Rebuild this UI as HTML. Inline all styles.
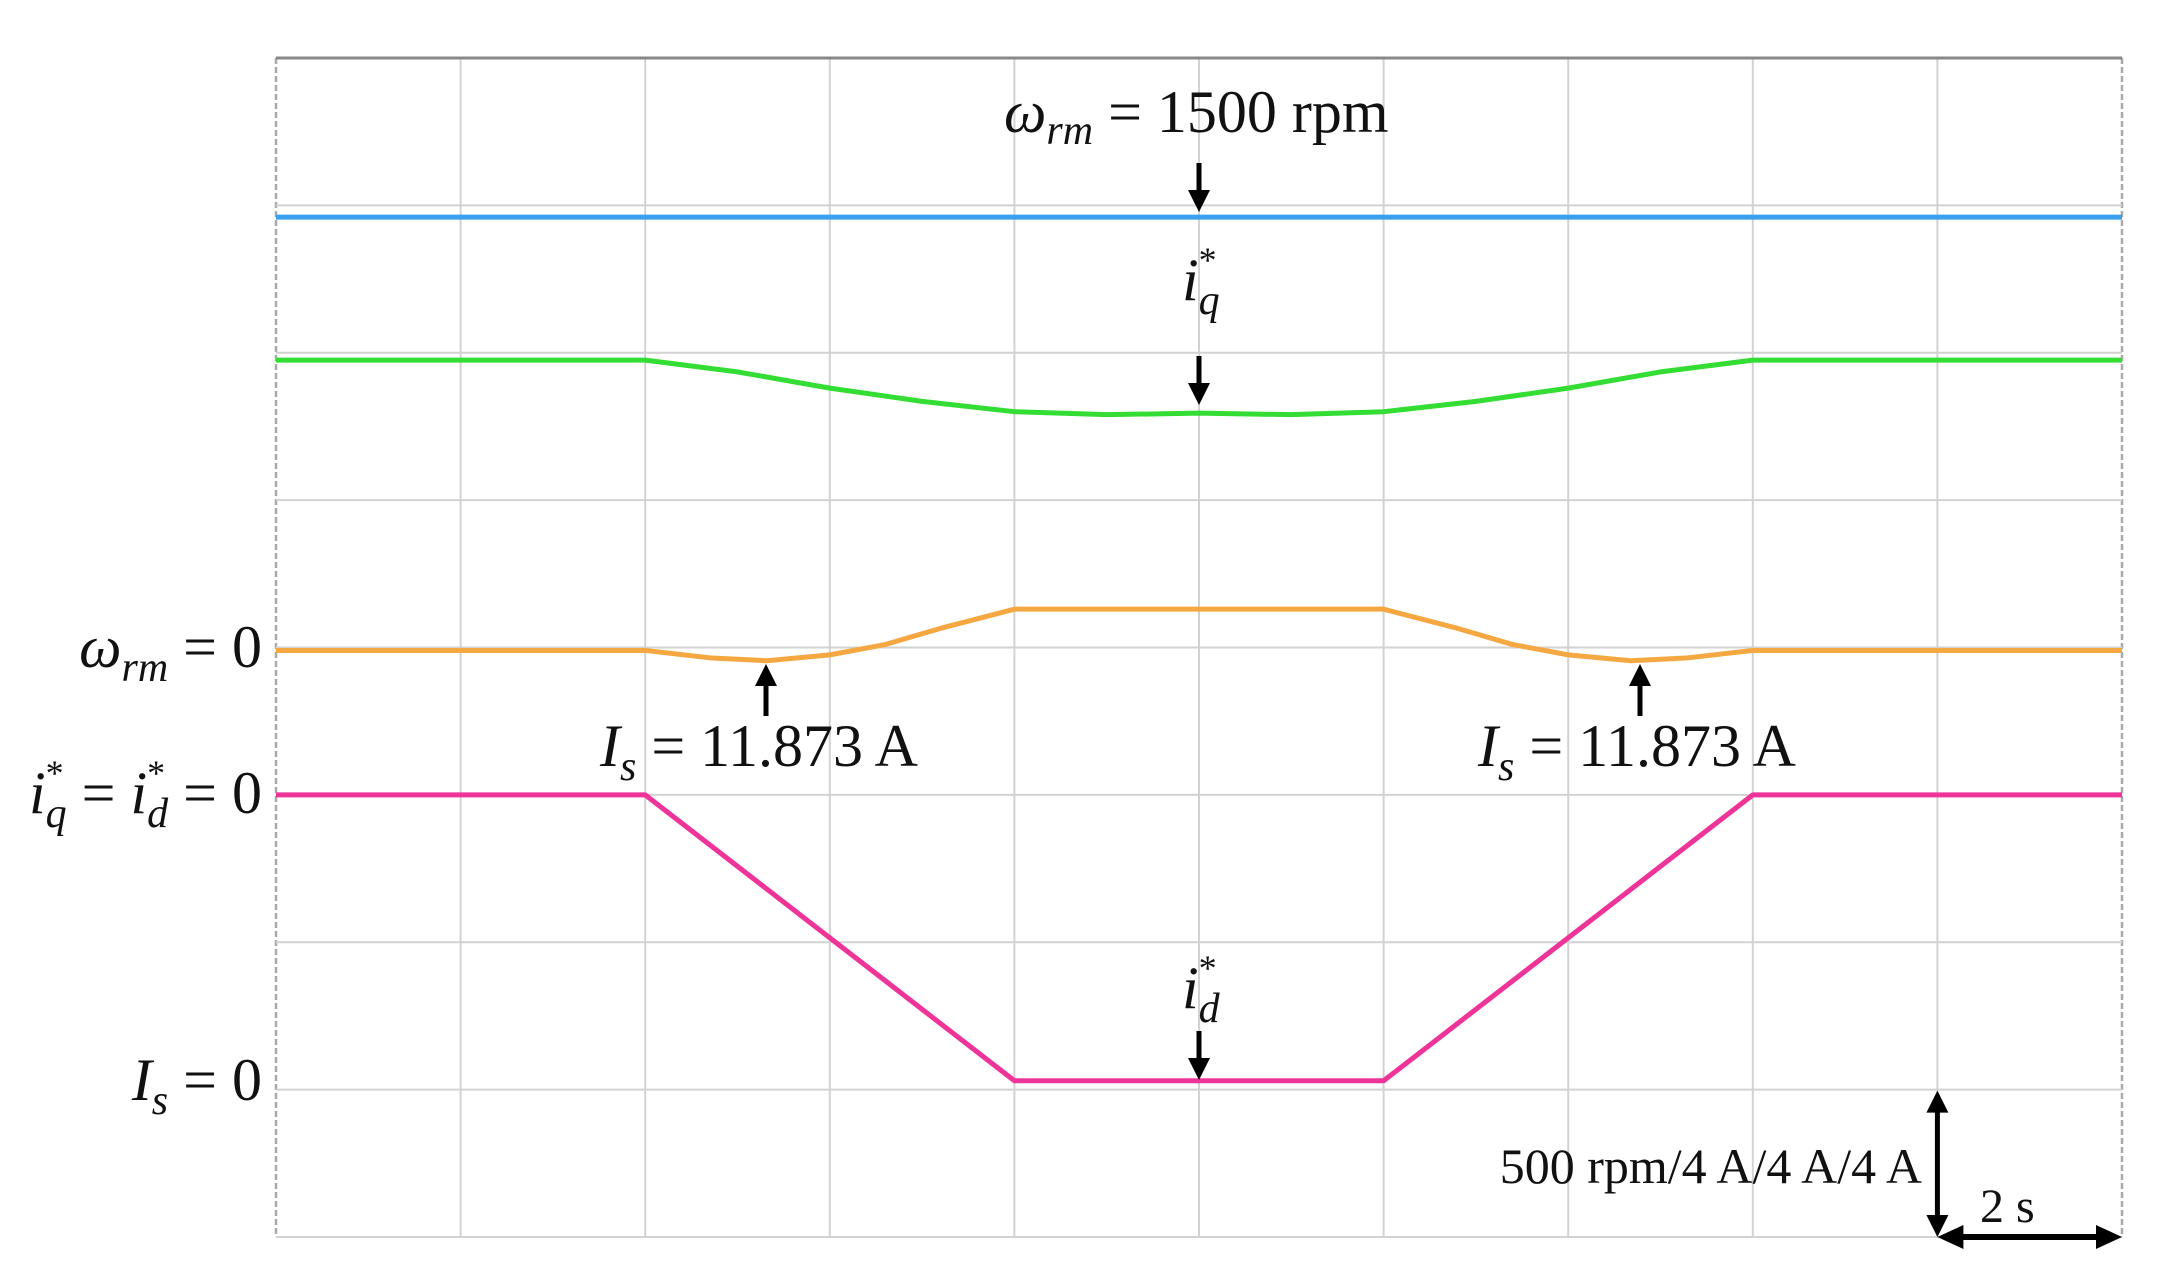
<!DOCTYPE html>
<html><head><meta charset="utf-8"><style>
html,body{margin:0;padding:0;background:#fff}
svg{display:block}
text{font-family:"Liberation Serif",serif;fill:#111}
</style></head><body>
<svg id="chart" width="2162" height="1277" viewBox="0 0 2162 1277" xmlns="http://www.w3.org/2000/svg">
<g id="grid"></g>
<g id="traces"></g>
<g id="annot" font-size="60">
  <text x="1004" y="132"><tspan font-style="italic">ω</tspan><tspan font-style="italic" font-size="42" dy="12">rm</tspan><tspan dy="-12"> = 1500 rpm</tspan></text>
  <text x="1182" y="300" font-style="italic">i<tspan font-size="36" dy="-28" font-style="normal">*</tspan><tspan font-size="42" dx="-18" dy="42">q</tspan></text>
  <text x="1182" y="1008" font-style="italic">i<tspan font-size="36" dy="-28" font-style="normal">*</tspan><tspan font-size="42" dx="-18" dy="42">d</tspan></text>
  <text x="262" y="667" text-anchor="end"><tspan font-style="italic">ω</tspan><tspan font-style="italic" font-size="42" dy="14">rm</tspan><tspan dy="-14"> = 0</tspan></text>
  <text x="262" y="813" text-anchor="end"><tspan font-style="italic">i</tspan><tspan font-size="36" dy="-28">*</tspan><tspan font-style="italic" font-size="42" dx="-18" dy="42">q</tspan><tspan dy="-14"> = </tspan><tspan font-style="italic">i</tspan><tspan font-size="36" dy="-28">*</tspan><tspan font-style="italic" font-size="42" dx="-18" dy="42">d</tspan><tspan dy="-14"> = 0</tspan></text>
  <text x="262" y="1100" text-anchor="end"><tspan font-style="italic">I</tspan><tspan font-style="italic" font-size="42" dy="14">s</tspan><tspan dy="-14"> = 0</tspan></text>
  <text x="600" y="766"><tspan font-style="italic">I</tspan><tspan font-style="italic" font-size="42" dy="14">s</tspan><tspan dy="-14"> = 11.873 A</tspan></text>
  <text x="1478" y="766"><tspan font-style="italic">I</tspan><tspan font-style="italic" font-size="42" dy="14">s</tspan><tspan dy="-14"> = 11.873 A</tspan></text>
  <text x="1922" y="1183" font-size="50" text-anchor="end">500 rpm/4 A/4 A/4 A</text>
  <text x="1980" y="1222" font-size="48">2 s</text>
</g>
<g id="arrows" fill="#000" stroke="#000"></g>
</svg>
<script>
// plot geometry
const X0=276, X1=2122, Y0=58, Y1=1237;
const xDiv=(X1-X0)/10, yDiv=(Y1-Y0)/8;
const sx=d=>X0+d*xDiv, sy=d=>Y0+d*yDiv;
// data (grid divisions: x in time divisions, y in vertical divisions from top)
const speedX=[0,10];
const speedY=[1.08,1.08];
const iqX=[0,2,2.5,3,3.5,4,4.5,5,5.5,6,6.5,7,7.5,8,10];
const iqY=[2.05,2.05,2.13,2.24,2.33,2.40,2.42,2.41,2.42,2.40,2.33,2.24,2.13,2.05,2.05];
const wX=[0,2,2.35,2.66,3.0,3.3,3.6,4,6,6.4,6.7,7.0,7.34,7.65,8,10];
const wY=[4.02,4.02,4.07,4.09,4.05,3.98,3.87,3.74,3.74,3.87,3.98,4.05,4.09,4.07,4.02,4.02];
const idX=[0,2,4,6,8,10];
const idY=[5,5,6.94,6.94,5,5];
const NS='http://www.w3.org/2000/svg';
const grid=document.getElementById('grid');
for(let i=0;i<=10;i++){
  const l=document.createElementNS(NS,'line');
  l.setAttribute('x1',sx(i));l.setAttribute('x2',sx(i));l.setAttribute('y1',Y0);l.setAttribute('y2',Y1);
  l.setAttribute('stroke',(i==0||i==10)?'#aaa':'#d2d2d2');l.setAttribute('stroke-width',(i==0||i==10)?2.5:2);
  if(i==0||i==10) l.setAttribute('stroke-dasharray','6 3');
  
  
  grid.appendChild(l);
}
for(let j=0;j<=8;j++){
  const l=document.createElementNS(NS,'line');
  l.setAttribute('x1',X0);l.setAttribute('x2',X1);l.setAttribute('y1',sy(j));l.setAttribute('y2',sy(j));
  l.setAttribute('stroke',j==0?'#888':'#d2d2d2');l.setAttribute('stroke-width',j==0?3:2);
  
  
  grid.appendChild(l);
}
const traces=document.getElementById('traces');
function trace(xs,ys,color,name){
  const p=document.createElementNS(NS,'polyline');
  p.setAttribute('points',xs.map((x,i)=>sx(x)+','+sy(ys[i])).join(' '));
  p.setAttribute('fill','none');p.setAttribute('stroke',color);p.setAttribute('stroke-width',5);
  p.setAttribute('stroke-linejoin','round');
  
  
  traces.appendChild(p);
}
trace(speedX,speedY,'#3aa0ee','speed-trace');
trace(iqX,iqY,'#33dd33','iq-trace');
trace(wX,wY,'#f5a742','omega-trace');
trace(idX,idY,'#ee3399','id-trace');
const arrows=document.getElementById('arrows');
function arrow(x,ya,yb,name){
  const dir=yb>ya?1:-1;
  const l=document.createElementNS(NS,'line');
  l.setAttribute('x1',x);l.setAttribute('x2',x);l.setAttribute('y1',ya);l.setAttribute('y2',yb-dir*16);
  l.setAttribute('stroke-width',5);
  
  
  arrows.appendChild(l);
  const h=document.createElementNS(NS,'polygon');
  h.setAttribute('points',`${x-11},${yb-dir*22} ${x+11},${yb-dir*22} ${x},${yb}`);
  h.setAttribute('stroke','none');
  
  
  arrows.appendChild(h);
}
arrow(1199,163,212,'speed-arrow');
arrow(1199,356,405,'iq-arrow');
arrow(1199,1031,1080,'id-arrow');
arrow(766,716,664,'is-arrow-left');
arrow(1640,716,664,'is-arrow-right');
const vx=sx(9);
arrow(vx,1165,sy(7)+1,'scale-arrow-up');
arrow(vx,1165,Y1,'scale-arrow-down');
function harrow(xa,xb,y,name){
  const dir=xb>xa?1:-1;
  const l=document.createElementNS(NS,'line');
  l.setAttribute('x1',xa);l.setAttribute('x2',xb-dir*16);l.setAttribute('y1',y);l.setAttribute('y2',y);
  l.setAttribute('stroke-width',6);
  
  
  arrows.appendChild(l);
  const h=document.createElementNS(NS,'polygon');
  h.setAttribute('points',`${xb-dir*26},${y-12} ${xb-dir*26},${y+12} ${xb},${y}`);
  h.setAttribute('stroke','none');
  
  
  arrows.appendChild(h);
}
harrow(2030,vx,Y1,'time-arrow-left');
harrow(2030,X1,Y1,'time-arrow-right');
</script>
</body></html>
